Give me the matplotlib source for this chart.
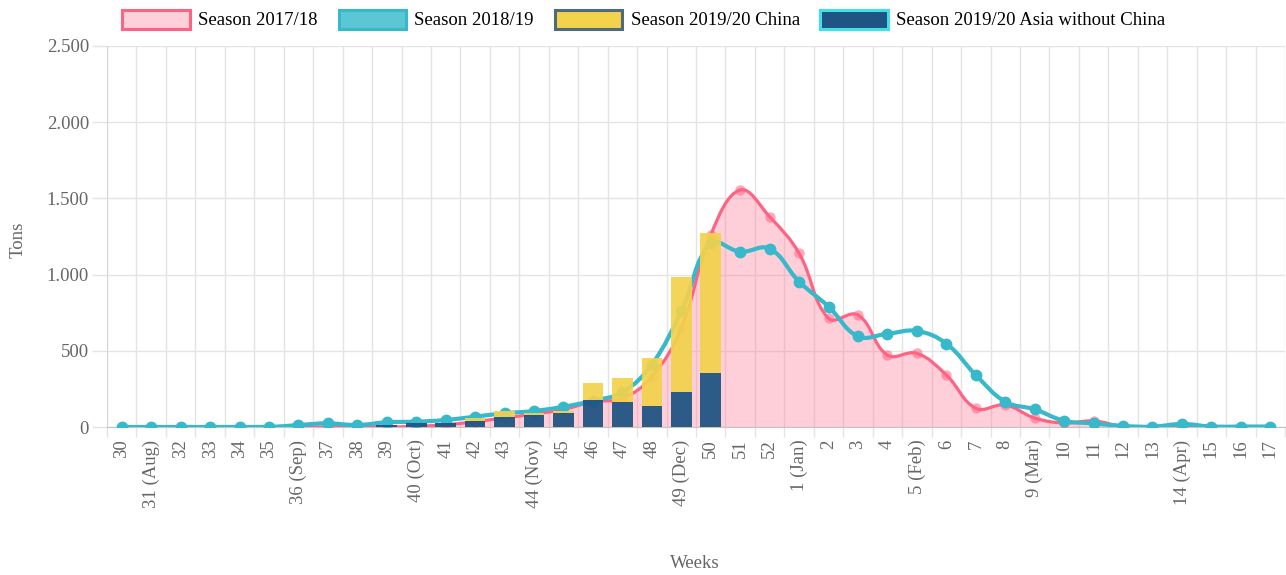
import numpy as np
import matplotlib.pyplot as plt
from matplotlib.path import Path
from matplotlib.patches import PathPatch, Patch

plt.rcParams['font.family'] = ['Liberation Serif', 'DejaVu Serif']

weeks = ['30', '31 (Aug)', '32', '33', '34', '35', '36 (Sep)', '37', '38', '39',
         '40 (Oct)', '41', '42', '43', '44 (Nov)', '45', '46', '47', '48', '49 (Dec)',
         '50', '51', '52', '1 (Jan)', '2', '3', '4', '5 (Feb)', '6', '7',
         '8', '9 (Mar)', '10', '11', '12', '13', '14 (Apr)', '15', '16', '17']

season_2017_18 = [0, 0, 0, 0, 0, 0, 0, 0, 5, 0,
                  5, 15, 35, 60, 85, 115, 166, 188, 330, 650,
                  1260, 1555, 1380, 1140, 713, 735, 472, 483, 341, 123,
                  144, 59, 26, 40, 3, 0, 8, 0, 0, 0]

season_2018_19 = [0, 0, 0, 0, 0, 0, 13, 24, 13, 31,
                  35, 46, 68, 90, 105, 133, 172, 228, 410, 760,
                  1205, 1150, 1170, 954, 790, 595, 612, 630, 547, 341,
                  166, 116, 41, 24, 7, 2, 20, 3, 3, 3]

# 2019/20 only up to week 50
asia_wo_china_2019_20 = [0, 0, 0, 0, 0, 0, 0, 0, 0, 15,
                         28, 28, 39, 63, 79, 90, 177, 164, 140, 228,
                         352] + [0] * 19
china_2019_20 = [0, 0, 0, 0, 0, 0, 0, 0, 0, 0,
                 0, 0, 18, 44, 15, 13, 110, 160, 315, 758,
                 919] + [0] * 19

PINK = '#ff6384'
CYAN = '#38b8cb'
YELLOW = '#f3d24c'
NAVY = '#1f5582'
TXT = '#666666'
GRID = '#e4e4e4'

fig = plt.figure(figsize=(12.86, 5.75), dpi=100)
ax = fig.add_axes([107 / 1286, 1 - 427 / 575, (1285 - 107) / 1286, (427 - 46) / 575])
x = np.arange(len(weeks))
ax.set_xlim(-0.5, len(weeks) - 0.5)
ax.set_ylim(0, 2500)


def smooth_path(xs, ys, tension=0.4, close_to_zero=False):
    # chart.js style bezier spline, computed in pixel space
    pts = ax.transData.transform(np.column_stack([xs, ys]).astype(float))
    y_lo = ax.transData.transform((0, 0))[1]
    y_hi = ax.transData.transform((0, 2500))[1]
    n = len(pts)
    prev_cp, next_cp = [], []
    for i in range(n):
        p0 = pts[max(i - 1, 0)]
        p1 = pts[i]
        p2 = pts[min(i + 1, n - 1)]
        d01 = np.hypot(*(p1 - p0))
        d12 = np.hypot(*(p2 - p1))
        tot = d01 + d12
        s01 = d01 / tot if tot else 0
        s12 = d12 / tot if tot else 0
        cp_a = p1 - tension * s01 * (p2 - p0)
        cp_b = p1 + tension * s12 * (p2 - p0)
        cp_a[1] = min(max(cp_a[1], y_lo), y_hi)
        cp_b[1] = min(max(cp_b[1], y_lo), y_hi)
        prev_cp.append(cp_a)
        next_cp.append(cp_b)
    verts = [pts[0]]
    codes = [Path.MOVETO]
    for i in range(1, n):
        verts += [next_cp[i - 1], prev_cp[i], pts[i]]
        codes += [Path.CURVE4] * 3
    if close_to_zero:
        verts += [(pts[-1][0], y_lo), (pts[0][0], y_lo), pts[0]]
        codes += [Path.LINETO, Path.LINETO, Path.CLOSEPOLY]
    verts = ax.transData.inverted().transform(np.array(verts))
    return Path(verts, codes)


# pink area + line
ax.add_patch(PathPatch(smooth_path(x, season_2017_18, close_to_zero=True),
                       facecolor=PINK, alpha=0.3, edgecolor='none', zorder=1))
ax.add_patch(PathPatch(smooth_path(x, season_2017_18), facecolor='none',
                       edgecolor=PINK, lw=2.3, zorder=3))
ax.plot(x, season_2017_18, 'o', color=PINK, alpha=0.55, ms=7.5, mec='none', zorder=3)

# cyan line
ax.add_patch(PathPatch(smooth_path(x, season_2018_19), facecolor='none',
                       edgecolor=CYAN, lw=3.0, zorder=4))
ax.plot(x, season_2018_19, 'o', color=CYAN, ms=8.5, mec='none', zorder=4)

# stacked bars
ax.bar(x, asia_wo_china_2019_20, width=0.7, color=NAVY, alpha=0.95, zorder=5)
ax.bar(x, china_2019_20, width=0.7, bottom=asia_wo_china_2019_20, color=YELLOW,
       alpha=0.92, zorder=5)

# axes styling
ax.set_axisbelow(True)
ax.set_yticks([0, 500, 1000, 1500, 2000, 2500])
ax.set_yticklabels(['0', '500', '1.000', '1.500', '2.000', '2.500'])
ax.set_xticks(x)
ax.set_xticklabels(weeks, rotation=90, va='top')
ax.set_xticks(np.arange(-0.5, len(weeks)), minor=True)
ax.tick_params(axis='x', which='major', length=0, pad=9, labelsize=13.5, labelcolor=TXT)
ax.tick_params(axis='x', which='minor', length=7, color=GRID, width=1)
ax.tick_params(axis='y', length=11, color=GRID, width=1, pad=2, labelsize=13.5,
               labelcolor=TXT)
ax.grid(axis='y', color=GRID, lw=1)
ax.grid(axis='x', which='minor', color=GRID, lw=1)
for s in ['top', 'right']:
    ax.spines[s].set_visible(False)
ax.spines['left'].set_color('#d6d6d6')
ax.spines['bottom'].set_color('#c4c4c4')

fig.text(18 / 1286, 1 - 240 / 575, 'Tons', rotation=90, ha='center', va='center',
         fontsize=13.5, color=TXT)
fig.text(695 / 1286, 1 - 563 / 575, 'Weeks', ha='center', va='center',
         fontsize=13.5, color=TXT)

handles = [
    Patch(facecolor='#ffd0d9', edgecolor=PINK, lw=2.2, label='Season 2017/18'),
    Patch(facecolor='#5bc6d4', edgecolor=CYAN, lw=2.2, label='Season 2018/19'),
    Patch(facecolor=YELLOW, edgecolor='#51697f', lw=2.2, label='Season 2019/20 China'),
    Patch(facecolor=NAVY, edgecolor='#40e0ea', lw=2.2,
          label='Season 2019/20 Asia without China'),
]
fig.legend(handles=handles, loc='center', bbox_to_anchor=(644 / 1286, 1 - 19.5 / 575),
           ncol=4, frameon=False, fontsize=13.5, handlelength=3.6, handleheight=1.2,
           handletextpad=0.45, columnspacing=1.1, borderaxespad=0)

fig.savefig('out.png', dpi=100)
